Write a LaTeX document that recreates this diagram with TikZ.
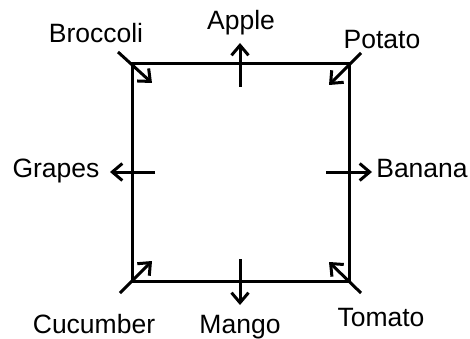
\documentclass[tikz,border=0pt]{standalone}
\usepackage{fontspec}
\setmainfont{Liberation Sans}
\usetikzlibrary{arrows.meta}

\begin{document}
\begin{tikzpicture} [x=1pt, y=-1pt, line width=3pt, ->, >={Straight Barb[length=10pt, width=17pt]},
	label/.style={anchor=base, inner sep=0pt, font=\fontsize{26.5}{30}\selectfont}]

\useasboundingbox (0,0) rectangle (470,339);

% the square
\coordinate	(top_left)		at (132,64);
\coordinate	(bottom_right)	at (349,281);
\draw[-]	(top_left) rectangle (bottom_right);

% labels
\node[label]	(apple)		at (241,30)		{Apple};
\node[label]	(broccoli)	at (96,43)		{Broccoli};
\node[label]	(potato)	at (382,49)		{Potato};
\node[label]	(grapes)	at (56,177)		{Grapes};
\node[label]	(banana)	at (422,177)	{Banana};
\node[label]	(cucumber)	at (94,333)		{Cucumber};
\node[label]	(mango)		at (240,333)	{Mango};
\node[label]	(tomato)	at (381,326)	{Tomato};

% arrow ends
\coordinate	(apple_from)		at (240,87);
\coordinate	(apple_to)			at (240,43);
\coordinate	(broccoli_from)		at (118,52);
\coordinate	(broccoli_to)		at (152,83);
\coordinate	(potato_from)		at (361,53);
\coordinate	(potato_to)			at (329,85);
\coordinate	(grapes_from)		at (155,172);
\coordinate	(grapes_to)			at (110,172);
\coordinate	(banana_from)		at (326,172);
\coordinate	(banana_to)			at (372,172);
\coordinate	(cucumber_from)		at (120,293);
\coordinate	(cucumber_to)		at (152,261);
\coordinate	(mango_from)		at (240,259);
\coordinate	(mango_to)			at (240,305);
\coordinate	(tomato_from)		at (361,293);
\coordinate	(tomato_to)			at (329,262);

\draw	(apple_from)	-- (apple_to);
\draw	(broccoli_from)	-- (broccoli_to);
\draw	(potato_from)	-- (potato_to);
\draw	(grapes_from)	-- (grapes_to);
\draw	(banana_from)	-- (banana_to);
\draw	(cucumber_from)	-- (cucumber_to);
\draw	(mango_from)	-- (mango_to);
\draw	(tomato_from)	-- (tomato_to);

\end{tikzpicture}
\end{document}
